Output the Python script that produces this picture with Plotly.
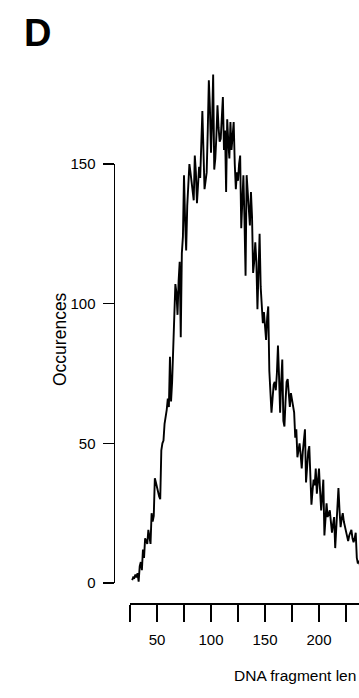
import plotly.graph_objects as go

# Fragment length (bp) and number of occurrences
fragment_length = list(range(27, 239))
occurrences = [
    1, 2, 1.8, 3, 2, 3.5, 0.5, 6, 7.5, 4.6,            # 27-36
    12, 9, 16, 15, 14, 19, 17, 14, 25, 22,             # 37-46
    24, 37.5, 36, 34, 33, 31, 30, 47.5, 50, 51,        # 47-56
    57, 59, 62, 66, 63, 81, 65, 72, 85, 100,           # 57-66
    107, 104, 96, 108, 115, 88, 118, 124, 146, 130,    # 67-76
    119, 135, 142, 150, 147, 144, 140, 137, 153, 147,  # 77-86
    136, 141, 149, 145, 158, 169, 155, 141, 144, 147,  # 87-96
    162, 180, 170, 154, 165, 182, 148, 152, 160, 171,  # 97-106
    163, 158, 159, 166, 174, 155, 162, 140, 166, 158,  # 107-116
    152, 165, 155, 160, 165, 150, 141, 147, 144, 150,  # 117-126
    153, 127, 138, 146, 130, 110, 146, 140, 135, 128,  # 127-136
    140, 131, 111, 115, 122, 115, 98, 112, 125, 106,   # 137-146
    100, 93, 97, 90, 87, 95, 99, 76, 70, 61,           # 147-156
    66, 71, 72, 69, 75, 85, 74, 61, 72, 80,            # 157-166
    58, 56, 65, 72, 73, 66, 63, 68, 65, 64,            # 167-176
    61, 52, 55, 45, 48, 50, 46, 41, 47, 51,            # 177-186
    55, 36, 42, 47, 49, 38, 28, 33, 37, 35,            # 187-196
    41, 32, 36, 41, 33, 26, 31, 37, 17, 24,            # 197-206
    28.5, 23.6, 25, 26, 22, 18, 21, 23.6, 12.5, 20,    # 207-216
    27, 34, 26, 20, 23, 25, 22, 20, 19, 17,            # 217-226
    15, 17, 18, 19, 16, 14.6, 16, 18, 9, 7,            # 227-236
    8, 6,                                              # 237-238
]

x_tick_values = [25, 50, 75, 100, 125, 150, 175, 200, 225, 250]
x_tick_labels = ["", "50", "", "100", "", "150", "", "200", "", "250"]
y_tick_values = [0, 50, 100, 150]
y_tick_labels = ["0", "50", "100", "150"]

W, H = 359, 698
FONT = "Liberation Sans, Arial, Helvetica, sans-serif"

fig = go.Figure()

fig.add_trace(go.Scatter(
    x=fragment_length, y=occurrences, mode="lines",
    line=dict(color="black", width=1.9),
    xaxis="x", yaxis="y", hoverinfo="skip", showlegend=False,
))
# empty trace so the separate y-axis panel is created
fig.add_trace(go.Scatter(x=[], y=[], xaxis="x2", yaxis="y2", showlegend=False))

# pixel helpers for layout placement
px_x = lambda p: p / W
px_y = lambda p: 1 - p / H

x_px_per_unit = 1.08
y_px_per_unit = (583 - 164) / 150.0

fig.update_layout(
    width=W, height=H, autosize=False,
    margin=dict(l=0, r=0, t=0, b=0, pad=0, autoexpand=False),
    paper_bgcolor="white", plot_bgcolor="white",
    showlegend=False,
    xaxis=dict(
        domain=[px_x(130), 1],
        range=[25, 25 + (W - 130) / x_px_per_unit],
        anchor="free", position=px_y(603), automargin=False,
        showline=True, linecolor="black", linewidth=1.5,
        ticks="outside", ticklen=17, tickwidth=1.5, tickcolor="black",
        tickvals=x_tick_values, ticktext=x_tick_labels,
        tickfont=dict(family=FONT, size=15, color="black"),
        ticklabelstandoff=5,
        showgrid=False, zeroline=False, fixedrange=True,
    ),
    yaxis=dict(
        domain=[0, 1], automargin=False,
        range=[-(H - 583) / y_px_per_unit, 583 / y_px_per_unit],
        visible=False, fixedrange=True,
    ),
    xaxis2=dict(
        domain=[px_x(115), px_x(120)], range=[0, 1], automargin=False,
        anchor="y2", visible=False, fixedrange=True,
    ),
    yaxis2=dict(
        domain=[px_y(583), px_y(164)], range=[0, 150], automargin=False,
        anchor="x2", side="left",
        showline=True, linecolor="black", linewidth=1.5,
        ticks="outside", ticklen=11, tickwidth=1.5, tickcolor="black",
        tickvals=y_tick_values, ticktext=y_tick_labels,
        tickfont=dict(family=FONT, size=15, color="black"),
        ticklabelstandoff=4,
        showgrid=False, zeroline=False, fixedrange=True,
    ),
    annotations=[
        dict(text="<b>D</b>", xref="paper", yref="paper",
             x=px_x(22), y=px_y(33), xanchor="left", yanchor="middle",
             showarrow=False, font=dict(family=FONT, size=38, color="black")),
        dict(text="Occurences", xref="paper", yref="paper",
             x=px_x(60), y=px_y(339), xanchor="center", yanchor="middle",
             textangle=-90, showarrow=False,
             font=dict(family=FONT, size=17.5, color="black")),
        dict(text="DNA fragment len", xref="paper", yref="paper",
             x=px_x(232), y=px_y(675), xanchor="left", yanchor="middle",
             showarrow=False, font=dict(family=FONT, size=15.5, color="black")),
    ],
)

fig.write_html("out.html", config=dict(displayModeBar=False, staticPlot=True))
